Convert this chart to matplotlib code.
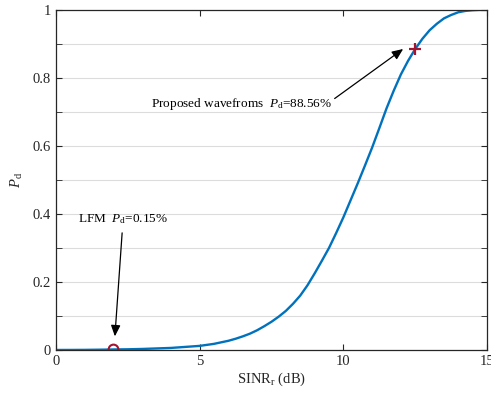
import matplotlib
matplotlib.use("Agg")
import matplotlib.pyplot as plt

plt.rcParams['font.family'] = ['Liberation Serif', 'DejaVu Serif']
plt.rcParams['mathtext.fontset'] = 'custom'
plt.rcParams['mathtext.rm'] = 'Liberation Serif'
plt.rcParams['mathtext.it'] = 'Liberation Serif:italic'

# Detection probability vs SINR
sinr = [0, 0.5, 1, 1.5, 2, 2.5, 3, 3.5, 4, 4.5, 5, 5.5, 6, 6.25, 6.5, 6.75, 7, 7.25,
        7.5, 7.75, 8, 8.25, 8.5, 8.75, 9, 9.25, 9.5, 9.75, 10, 10.25, 10.5, 10.75,
        11, 11.25, 11.5, 11.75, 12, 12.25, 12.5, 12.75, 13, 13.25, 13.5, 13.75,
        14, 14.25, 14.5, 14.75, 15]
pd_vals = [0.0, 0.0001, 0.0003, 0.0008, 0.0015, 0.002, 0.003, 0.0045, 0.006, 0.009,
           0.012, 0.018, 0.027, 0.033, 0.040, 0.048, 0.058, 0.070,
           0.083, 0.098, 0.115, 0.136, 0.160, 0.190, 0.225, 0.262, 0.300, 0.344,
           0.390, 0.440, 0.490, 0.542, 0.595, 0.652, 0.710, 0.762, 0.810, 0.850,
           0.885, 0.915, 0.940, 0.959, 0.975, 0.985, 0.993, 0.997, 0.999, 1.0, 1.0]

lfm_point = (2.0, 0.0015)
prop_point = (12.5, 0.8856)
yticks = [0, 0.2, 0.4, 0.6, 0.8, 1]
ytick_labels = ['0', '0.2', '0.4', '0.6', '0.8', '1']
yminor = [0.1, 0.3, 0.5, 0.7, 0.9]

fig = plt.figure(figsize=(4.91, 3.95), dpi=100)
ax = fig.add_axes([0.114, 0.114, 0.878, 0.861])

ax.plot(sinr, pd_vals, color='#0072BD', lw=1.7)
ax.plot(*lfm_point, 'o', mfc='none', mec='#A2142F', ms=7, mew=1.5)
ax.plot(*prop_point, '+', color='#A2142F', ms=8, mew=1.6)

ax.annotate('Proposed wavefroms  $P_{\\rm d}$=88.56%', xy=(12.08, 0.885), xytext=(3.3, 0.724),
            fontsize=9.5, va='center', ha='left',
            arrowprops=dict(arrowstyle='-|>,head_length=0.7,head_width=0.3', color='black',
                            lw=0.9, shrinkA=0, shrinkB=0, relpos=(1.0, 0.7)))
ax.annotate('LFM  $P_{\\rm d}$=0.15%', xy=(2.05, 0.04), xytext=(0.75, 0.385),
            fontsize=9.5, va='center', ha='left',
            arrowprops=dict(arrowstyle='-|>,head_length=0.7,head_width=0.3', color='black',
                            lw=0.9, shrinkA=3, shrinkB=0, relpos=(0.5, 0.0)))

ax.set_xlim(0, 15)
ax.set_ylim(0, 1)
ax.set_xticks([0, 5, 10, 15])
ax.set_yticks(yticks)
ax.set_yticklabels(ytick_labels)
ax.set_yticks(yminor, minor=True)
ax.grid(axis='y', which='both', color='#dcdcdc', lw=0.8)
ax.set_axisbelow(True)
ax.tick_params(which='both', direction='in', top=True, right=True, colors='#262626',
               labelsize=10.5, length=4)
for s in ax.spines.values():
    s.set_color('#262626')
    s.set_linewidth(0.9)

ax.set_xlabel('SINR$_{\\rm r}$ (dB)', fontsize=10.5, color='#262626', labelpad=2)
ax.set_ylabel('$P_{\\rm d}$', fontsize=10.5, color='#262626', labelpad=6)

fig.savefig('out.png', dpi=100)
